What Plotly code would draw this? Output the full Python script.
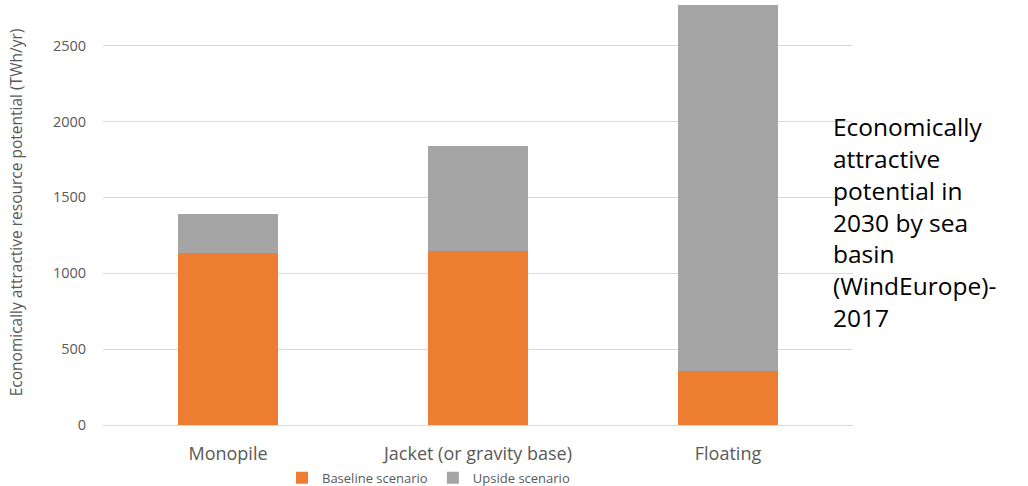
import plotly.graph_objects as go

# Foundation types and their economically attractive potential (TWh/yr)
categories = ["Monopile", "Jacket (or gravity base)", "Floating"]
baseline = [1130, 1145, 355]
upside = [260, 695, 2410]

y_ticks = [0, 500, 1000, 1500, 2000, 2500]

ORANGE = "#ED7D31"
GREY = "#A5A5A5"
TEXT_GREY = "#595959"
FONT = "Open Sans"

fig = go.Figure()
fig.add_trace(go.Bar(x=categories, y=baseline, name="Baseline scenario",
                     marker=dict(color=ORANGE, line=dict(width=0))))
fig.add_trace(go.Bar(x=categories, y=upside, name="Upside scenario",
                     marker=dict(color=GREY, line=dict(width=0))))

fig.update_layout(
    barmode="stack",
    bargap=0.6,
    width=1028,
    height=486,
    margin=dict(l=103, r=175, t=0, b=61, autoexpand=False),
    plot_bgcolor="white",
    paper_bgcolor="white",
    font=dict(family=FONT, color=TEXT_GREY),
    showlegend=True,
    legend=dict(
        orientation="h",
        x=0.434, xanchor="center",
        yref="container",
        y=0.017, yanchor="middle",
        font=dict(size=13, color=TEXT_GREY),
        bgcolor="rgba(0,0,0,0)",
        itemwidth=30,
        traceorder="normal",
    ),
    xaxis=dict(
        range=[-0.5, 2.5],
        automargin=False,
        showgrid=False,
        showline=False,
        zeroline=False,
        ticks="outside",
        ticklen=12,
        tickcolor="white",
        tickfont=dict(size=18, color=TEXT_GREY),
    ),
    yaxis=dict(
        range=[0, 2800],
        automargin=False,
        tickvals=y_ticks,
        showgrid=True,
        gridcolor="#D9D9D9",
        gridwidth=1,
        zeroline=True,
        zerolinecolor="#D9D9D9",
        zerolinewidth=1,
        showline=False,
        ticks="outside",
        ticklen=13,
        tickcolor="white",
        tickfont=dict(size=14.5, color=TEXT_GREY),
        title=dict(
            text="Economically attractive resource potential (TWh/yr)",
            font=dict(size=15.5, color=TEXT_GREY),
            standoff=26,
        ),
    ),
)

fig.add_annotation(
    text="Economically<br>attractive<br>potential in<br>2030 by sea<br>basin<br>(WindEurope)-<br>2017",
    xref="paper", yref="paper",
    x=1.0, xanchor="left", xshift=-22,
    y=0.5, yanchor="middle", yshift=-9,
    showarrow=False,
    align="left",
    font=dict(family=FONT, size=24.5, color="black"),
)

fig.write_html("out.html")
